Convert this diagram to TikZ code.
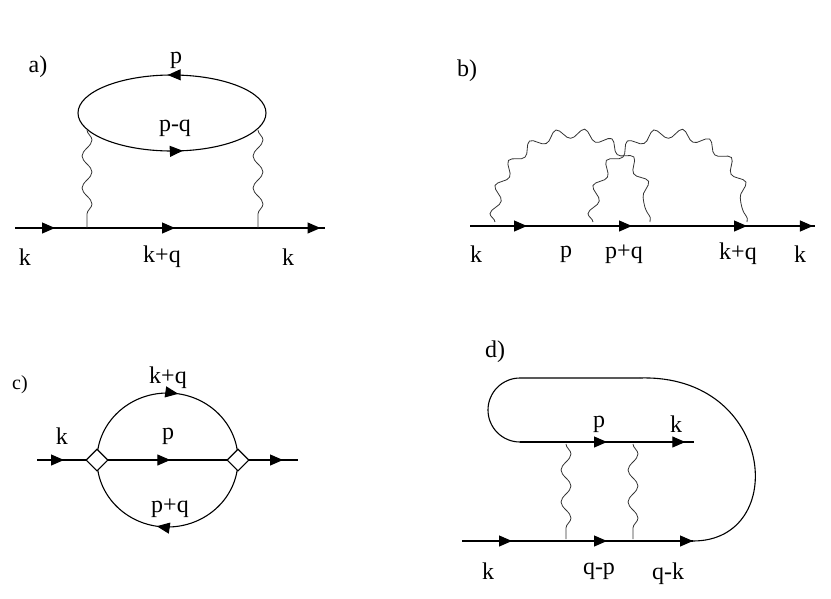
\documentclass[tikz,border=0pt]{standalone}
\usepackage{fontspec}
\setmainfont{Liberation Serif}
\usetikzlibrary{arrows.meta,decorations.pathmorphing,decorations.markings,shapes.geometric}
\begin{document}
\begin{tikzpicture}[x=1pt,y=-1pt,
  line width=1.1pt,
  lbl/.style={font=\fontsize{24}{24}\selectfont, inner sep=0pt},
  am/.style={postaction={decorate},decoration={markings,mark=at position #1 with {\arrow{Triangle[length=13pt,width=11pt]}}}},
  wig/.style={decorate,decoration={snake,segment length=#1,amplitude=5pt},line width=0.8pt,draw=black!80},
  wig/.default=32pt,
  dia/.style={draw,fill=white,diamond,minimum size=0pt,inner sep=0pt,shape aspect=1}]
\useasboundingbox (0,0) rectangle (831,598);
% ---- a)
\node[lbl] (la) at (38,67) {a)};
\coordinate (eR) at (266,113); \coordinate (eL) at (78,113);
\draw[am=0.52] (eR) arc[start angle=360,end angle=180,x radius=94,y radius=38];
\draw[am=0.55] (eL) arc[start angle=180,end angle=0,x radius=94,y radius=38];
\coordinate (a0) at (15,228); \coordinate (a1) at (55,228); \coordinate (a2) at (175,228);
\coordinate (a3) at (325,228);
\draw[am=1] (a0) -- (a1); \draw[am=1] (a1) -- (a2); \draw[am=0.97] (a2) -- (a3);
\coordinate (w1t) at (87,130); \coordinate (w1b) at (87,228);
\coordinate (w2t) at (258,130); \coordinate (w2b) at (258,228);
\draw[wig] (w1t) -- (w1b); \draw[wig] (w2t) -- (w2b);
\node[lbl] (p1) at (176,60) {p};
\node[lbl] (pq) at (175,128) {p-q};
\node[lbl] (k1) at (25,257) {k};
\node[lbl] (kq) at (162,257) {k+q};
\node[lbl] (k2) at (288,257) {k};
% ---- b)
\node[lbl] (lb) at (467,71) {b)};
\coordinate (b0) at (470,226); \coordinate (b1) at (527,226); \coordinate (b2) at (632,226);
\coordinate (b3) at (747,226); \coordinate (b4) at (815,226);
\draw[am=1] (b0) -- (b1); \draw[am=1] (b1) -- (b2); \draw[am=1] (b2) -- (b3); \draw[am=0.97] (b3) -- (b4);
\coordinate (c1a) at (495,222); \coordinate (c1b) at (650,222);
\coordinate (c2a) at (593,222); \coordinate (c2b) at (747,222);
\draw[wig=27pt] (c1a) arc[start angle=180,end angle=360,x radius=77.5,y radius=82];
\draw[wig=27pt] (c2a) arc[start angle=180,end angle=360,x radius=77,y radius=82];
\node[lbl] (bk1) at (476,254) {k};
\node[lbl] (bp) at (566,254) {p};
\node[lbl] (bpq) at (624,254) {p+q};
\node[lbl] (bkq) at (738,254) {k+q};
\node[lbl] (bk2) at (800,254) {k};
% ---- c)
\node[lbl,font=\fontsize{20}{20}\selectfont] (lc) at (20,385) {c)};
\coordinate (cL) at (97,460); \coordinate (cR) at (238,460);
\draw[am=0.55] (cL) arc[start angle=180,end angle=360,x radius=70.5,y radius=67];
\draw[am=0.55] (cR) arc[start angle=0,end angle=180,x radius=70.5,y radius=67];
\coordinate (c0) at (37,460); \coordinate (c3) at (298,460);
\draw[am=0.45] (c0) -- (cL); \draw[am=0.52] (cL) -- (cR); \draw[am=0.75] (cR) -- (c3);
\node[dia,minimum size=22pt] (dL) at (cL) {};
\node[dia,minimum size=22pt] (dR) at (cR) {};
\node[lbl] (ckq) at (168,378) {k+q};
\node[lbl] (cp) at (168,436) {p};
\node[lbl] (cpq) at (170,508) {p+q};
\node[lbl] (ck) at (62,436) {k};
% ---- d)
\node[lbl] (ld) at (495,352) {d)};
\coordinate (u0) at (520,442); \coordinate (u1) at (607,442); \coordinate (u2) at (694,442);
\draw[am=1] (u0) -- (u1); \draw[am=0.9] (u1) -- (u2);
\coordinate (t0) at (640,378); \coordinate (t1) at (520,378);
\draw (t0) -- (t1) arc[start angle=270,end angle=90,radius=32];
\coordinate (l0) at (462,541); \coordinate (l1) at (512,541); \coordinate (l2) at (607,541); \coordinate (l3) at (693,541);
\draw[am=1] (l0) -- (l1); \draw[am=1] (l1) -- (l2); \draw[am=1] (l2) -- (l3);
\draw (t0) .. controls (775,374) and (790,541) .. (l3);
\coordinate (v1t) at (566,444); \coordinate (v1b) at (566,539);
\coordinate (v2t) at (633,444); \coordinate (v2b) at (633,539);
\draw[wig] (v1t) -- (v1b); \draw[wig] (v2t) -- (v2b);
\node[lbl] (dp) at (599,424) {p};
\node[lbl] (dk) at (676,424) {k};
\node[lbl] (dk2) at (488,571) {k};
\node[lbl] (dqp) at (599,571) {q-p};
\node[lbl] (dqk) at (668,574) {q-k};
\end{tikzpicture}
\end{document}
